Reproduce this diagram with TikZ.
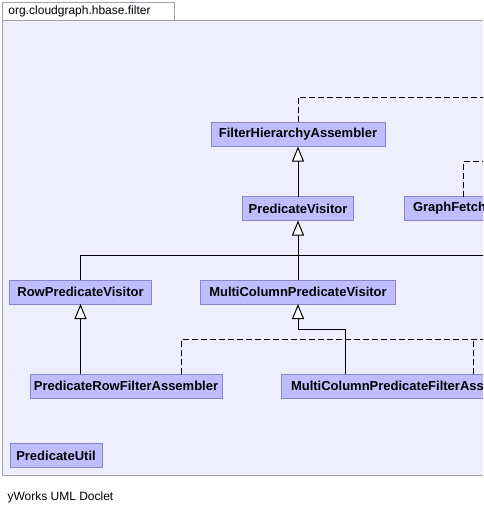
\documentclass[tikz,border=0pt]{standalone}
\usepackage{fontspec}
\setmainfont{Liberation Sans}
\usetikzlibrary{arrows.meta,calc,positioning}
\definecolor{pkgback}{RGB}{238,238,255}
\definecolor{pkgline}{RGB}{160,160,176}
\definecolor{clsfill}{RGB}{190,190,255}
\definecolor{clsline}{RGB}{136,136,200}

\begin{document}
\begin{tikzpicture}[x=1pt,y=-1pt,line width=1pt,
    cls/.style={draw=clsline,fill=clsfill,minimum height=24pt,inner sep=0pt,outer sep=0pt,
      font=\fontsize{13}{15}\selectfont\bfseries},
    inh/.style={-{Triangle[width=12pt,length=15pt,fill=white]}},
    real/.style={dash pattern=on 6pt off 3pt}]
      \useasboundingbox (0,0) rectangle (483,513);
      \clip (0,0) rectangle (483,513);
      % package frame and tab
      \fill[pkgback] (2.5,20.5) rectangle (500,475.5);
      \draw[pkgline] (500,20.5) -- (2.5,20.5) -- (2.5,475.5) -- (500,475.5);
      \draw[pkgline,fill=white] (2.5,2.5) rectangle (174.5,20.5);
      \node[anchor=west,inner sep=0pt,font=\fontsize{12}{14}\selectfont] (pkg) at (8,11.5) {org.cloudgraph.hbase.filter};
      % classes
      \node[cls,minimum width=174pt] (fha) at (298,134.5) {FilterHierarchyAssembler};
      \node[cls,minimum width=111pt] (pv) at (298,208.5) {PredicateVisitor};
      \node[cls,anchor=west,inner xsep=9pt] (gf) at (404,208.5) {GraphFetchFilterAssembler};
      \node[cls,minimum width=142pt] (rpv) at (80.5,292) {RowPredicateVisitor};
      \node[cls,minimum width=195pt] (mcpv) at (298,292) {MultiColumnPredicateVisitor};
      \node[cls,minimum width=192pt] (prfa) at (126,386) {PredicateRowFilterAssembler};
      \node[cls,anchor=west,inner xsep=10pt] (mcpfa) at (281,386) {MultiColumnPredicateFilterAssembler};
      \node[cls,minimum width=92pt] (pu) at (56,455.5) {PredicateUtil};
      % bends and loose ends
      \coordinate (bus) at (298,255.5);
      \coordinate (busE) at (490,255.5);
      \coordinate (fhaE) at (490,97.5);
      \coordinate (gfE) at (490,161);
      \coordinate (prfaE) at (490,339.5);
      % generalizations
      \draw[inh] (pv) -- (fha);
      \draw (rpv) |- (bus) -- (busE);
      \draw[inh] (mcpv) -- (pv);
      \draw[inh] (rpv.south |- prfa.north) -- (rpv.south);
      \draw[inh] ($(mcpfa.north west)+(64,0)$) -- ++(0,-45) -| (mcpv.south);
      % realizations
      \draw[real] (fha.north) |- (fhaE);
      \draw[real] ($(gf.north west)+(59,0)$) |- (gfE);
      \draw[real] ($(prfa.north)+(55,0)$) |- (prfaE);
      \draw[real] ($(mcpfa.north west)+(192,0)$) -- ++(0,-35);
      \node[anchor=west,inner sep=0pt,font=\fontsize{12}{14}\selectfont] (doclet) at (7,497) {yWorks UML Doclet};
    \end{tikzpicture}
\end{document}
